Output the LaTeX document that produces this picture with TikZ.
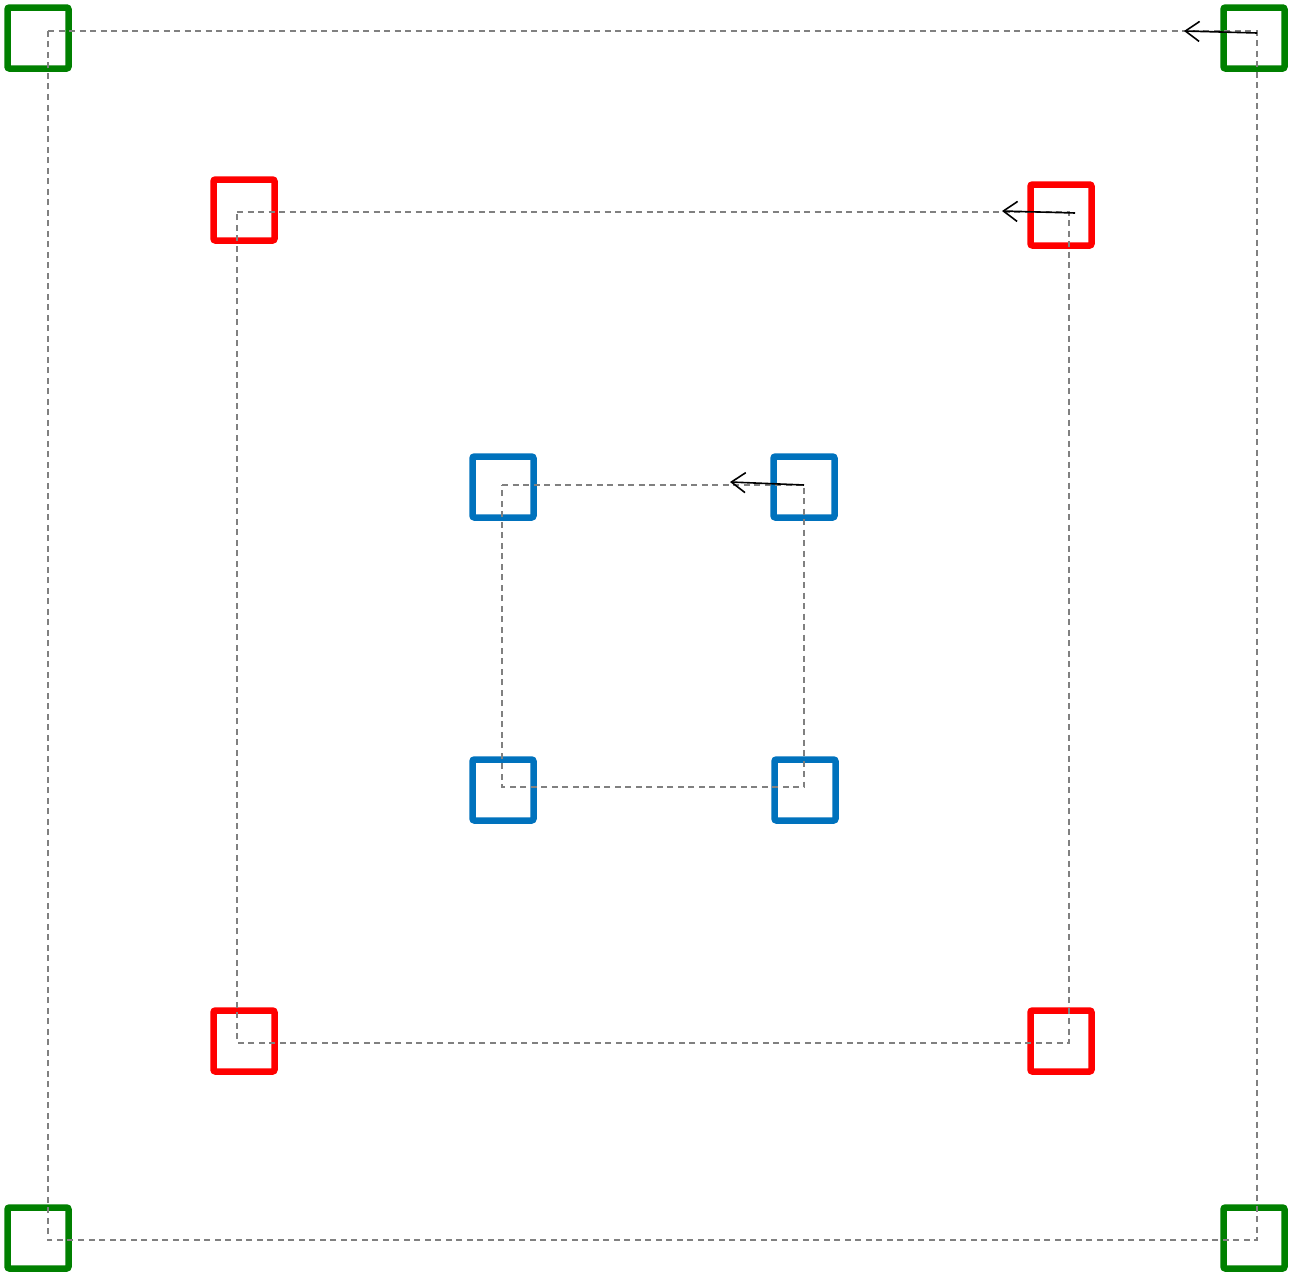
\documentclass[tikz,border=0pt]{standalone}
\usetikzlibrary{arrows.meta}
\definecolor{mgreen}{RGB}{0,128,0}
\definecolor{mred}{RGB}{255,0,0}
\definecolor{mblue}{RGB}{0,114,189}
\definecolor{mgray}{RGB}{128,128,128}
\tikzset{
  sq/.style={draw=#1, line width=6.5pt, minimum size=61pt, inner sep=0pt, rounded corners=2pt},
  frame/.style={draw=mgray, line width=1.6pt, dash pattern=on 6pt off 4.5pt},
  arr/.style={draw=black, line width=1.6pt, -{Straight Barb[length=14pt,width=20pt,line width=1.6pt]}}
}
\begin{document}
\begin{tikzpicture}[x=1pt,y=-1pt]
\useasboundingbox (0,0) rectangle (1298,1274);
% green
\node[sq=mgreen] (g1) at (38,38) {};
\node[sq=mgreen] (g2) at (1254,38) {};
\node[sq=mgreen] (g3) at (1254,1238) {};
\node[sq=mgreen] (g4) at (38,1238) {};
% red
\node[sq=mred] (r1) at (244,210) {};
\node[sq=mred] (r2) at (1061,215) {};
\node[sq=mred] (r3) at (1061,1041) {};
\node[sq=mred] (r4) at (244,1041) {};
% blue
\node[sq=mblue] (b1) at (503,487) {};
\node[sq=mblue] (b2) at (804,487) {};
\node[sq=mblue] (b3) at (805,790) {};
\node[sq=mblue] (b4) at (503,790) {};
% corners
\coordinate (G1) at (48,31);
\coordinate (G2) at (1257,31);
\coordinate (G3) at (1257,1240);
\coordinate (G4) at (48,1240);
\coordinate (R1) at (237,212);
\coordinate (R2) at (1069,212);
\coordinate (R3) at (1069,1043);
\coordinate (R4) at (237,1043);
\coordinate (B1) at (502,485);
\coordinate (B2) at (804,485);
\coordinate (B3) at (804,787);
\coordinate (B4) at (502,787);
\draw[frame] (G1) -- (G2) -- (G3) -- (G4) -- cycle;
\draw[frame] (R1) -- (R2) -- (R3) -- (R4) -- cycle;
\draw[frame] (B1) -- (B2) -- (B3) -- (B4) -- cycle;
% arrows
\coordinate (ga) at (1257,33); \coordinate (gb) at (1184,31);
\coordinate (ra) at (1075,213); \coordinate (rb) at (1002,211);
\coordinate (ba) at (804,485); \coordinate (bb) at (730,482);
\draw[arr] (ga) -- (gb);
\draw[arr] (ra) -- (rb);
\draw[arr] (ba) -- (bb);
\end{tikzpicture}
\end{document}
